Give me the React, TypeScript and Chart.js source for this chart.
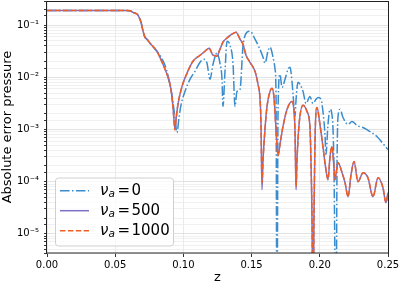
import React, { useEffect, useRef } from 'react';
import { Chart, registerables } from 'chart.js';

Chart.register(...registerables);

// ---- data (z, absolute error pressure) ----
const nu0Points: [number, number][] = [
  [0, 0.19], [0.0242, 0.19], [0.0462, 0.19], [0.0572, 0.19], [0.0609, 0.188], [0.063, 0.175],
  [0.066, 0.163], [0.0674, 0.143], [0.0689, 0.114], [0.0704, 0.0767], [0.0718, 0.0588], [0.0733, 0.0538],
  [0.0755, 0.0451], [0.0792, 0.0345], [0.0828, 0.0265], [0.0865, 0.017], [0.0887, 0.0109], [0.0909, 0.00588],
  [0.0924, 0.0033], [0.0938, 0.0017], [0.0953, 0.000875], [0.0968, 0.0017], [0.0982, 0.0029], [0.1012, 0.00538],
  [0.1048, 0.00915], [0.1085, 0.013], [0.1122, 0.0194], [0.1151, 0.0222], [0.1173, 0.0186], [0.1195, 0.00915],
  [0.1217, 0.0178], [0.1246, 0.029], [0.1268, 0.0186], [0.1283, 0.00915], [0.129, 0.00277], [0.1305, 0.013],
  [0.132, 0.0492], [0.1342, 0.0412], [0.1364, 0.0178], [0.1378, 0.00277], [0.1393, 0.00538], [0.1415, 0.00588],
  [0.1437, 0.0395], [0.1466, 0.0733], [0.1488, 0.0767], [0.1525, 0.0538], [0.1554, 0.0378], [0.1584, 0.0243],
  [0.1598, 0.0186], [0.162, 0.0316], [0.1635, 0.0378], [0.1657, 0.0243], [0.1672, 0.0143], [0.1679, 0.00471],
  [0.1686, 1e-7], [0.1694, 0.00243], [0.1708, 0.0114], [0.1723, 0.00642], [0.1745, 0.00915], [0.1767, 0.0143],
  [0.1782, 0.0156], [0.1796, 0.00838], [0.1804, 0.00471], [0.1818, 0.00178], [0.1826, 0.00378], [0.184, 0.00801],
  [0.1855, 0.00733], [0.1877, 0.00538], [0.1899, 0.00316], [0.1928, 0.00431], [0.195, 0.00316], [0.1972, 0.00378],
  [0.1987, 0.00412], [0.2009, 0.00378], [0.2023, 0.00222], [0.2038, 0.0008], [0.2045, 0.000331], [0.206, 0.00125],
  [0.2075, 0.00243], [0.2089, 0.00194], [0.2097, 0.001], [0.2104, 0.00017], [0.2119, 1e-7], [0.2126, 0.00017],
  [0.2133, 0.0017], [0.2148, 0.00243], [0.217, 0.0017], [0.2207, 0.00125], [0.2236, 0.00143], [0.2273, 0.00119],
  [0.2317, 0.00109], [0.2368, 0.000915], [0.2419, 0.000733], [0.2463, 0.000538], [0.25, 0.000412],
];

const nu500Points: [number, number][] = [
  [0, 0.19], [0.0242, 0.19], [0.0462, 0.19], [0.0572, 0.19], [0.0609, 0.188], [0.063, 0.175],
  [0.066, 0.163], [0.0674, 0.143], [0.0689, 0.114], [0.0704, 0.0767], [0.0718, 0.0588], [0.0733, 0.0538],
  [0.0755, 0.0451], [0.0806, 0.0316], [0.085, 0.0178], [0.0887, 0.01], [0.0909, 0.00588], [0.0924, 0.00265],
  [0.0938, 0.001], [0.0946, 0.00156], [0.096, 0.00303], [0.099, 0.00671], [0.1026, 0.0119], [0.107, 0.0203],
  [0.1122, 0.0265], [0.1158, 0.0316], [0.1188, 0.0361], [0.1217, 0.0265], [0.1246, 0.0254], [0.1268, 0.0345],
  [0.129, 0.0471], [0.1327, 0.0588], [0.1356, 0.0671], [0.1386, 0.0733], [0.1415, 0.0538], [0.1437, 0.0431],
  [0.1459, 0.0265], [0.1488, 0.0194], [0.1525, 0.013], [0.1547, 0.00733], [0.1562, 0.00378], [0.1569, 0.00125],
  [0.1576, 0.00007], [0.1584, 0.000265], [0.1598, 0.001], [0.1613, 0.00277], [0.1635, 0.00538], [0.165, 0.00614],
  [0.1664, 0.00412], [0.1679, 0.001], [0.1694, 0.000316], [0.1708, 0.000515], [0.173, 0.00114], [0.176, 0.00243],
  [0.1796, 0.00345], [0.1811, 0.00222], [0.1818, 0.001], [0.1826, 0.00007], [0.1833, 0.000265], [0.1848, 0.00125],
  [0.1877, 0.0029], [0.1906, 0.00222], [0.1928, 0.00109], [0.1935, 0.000265], [0.1943, 0.0000186], [0.195, 1e-7],
  [0.1957, 0.0000186], [0.1965, 0.000643], [0.1979, 0.00265], [0.2001, 0.00125], [0.2023, 0.000471], [0.2045, 0.00017],
  [0.206, 0.000109], [0.2075, 0.000303], [0.2089, 0.000471], [0.2104, 0.000186], [0.2111, 0.000109], [0.2133, 0.000232],
  [0.2163, 0.000149], [0.2185, 0.0000957], [0.2207, 0.0000515], [0.2229, 0.000136], [0.2251, 0.000243], [0.228, 0.0001],
  [0.2317, 0.000149], [0.2353, 0.000119], [0.239, 0.0000515], [0.2427, 0.000119], [0.2463, 0.0000767], [0.2485, 0.0000395],
  [0.25, 0.0000614],
];

const nu1000Points: [number, number][] = [
  [0, 0.19], [0.0242, 0.19], [0.0462, 0.19], [0.0572, 0.19], [0.0609, 0.188], [0.063, 0.175],
  [0.066, 0.163], [0.0674, 0.143], [0.0689, 0.114], [0.0704, 0.0767], [0.0718, 0.0588], [0.0733, 0.0538],
  [0.0755, 0.0451], [0.0806, 0.0316], [0.085, 0.0178], [0.0887, 0.01], [0.0909, 0.00588], [0.0924, 0.00265],
  [0.0938, 0.00098], [0.0946, 0.00156], [0.096, 0.00303], [0.099, 0.00671], [0.1026, 0.0119], [0.107, 0.0203],
  [0.1122, 0.0265], [0.1158, 0.0316], [0.1188, 0.0361], [0.1217, 0.0265], [0.1246, 0.0254], [0.1268, 0.0345],
  [0.129, 0.0471], [0.1327, 0.0588], [0.1356, 0.0671], [0.1386, 0.0733], [0.1415, 0.0538], [0.1437, 0.0431],
  [0.1459, 0.0265], [0.1488, 0.0194], [0.1525, 0.013], [0.1547, 0.00733], [0.1562, 0.00378], [0.1569, 0.00125],
  [0.1576, 0.000096], [0.1584, 0.000265], [0.1598, 0.001], [0.1613, 0.00277], [0.1635, 0.00538], [0.165, 0.00614],
  [0.1664, 0.00412], [0.1679, 0.001], [0.1694, 0.000316], [0.1708, 0.000515], [0.173, 0.00114], [0.176, 0.00243],
  [0.1796, 0.00345], [0.1811, 0.00222], [0.1818, 0.001], [0.1826, 0.00008], [0.1833, 0.000265], [0.1848, 0.00125],
  [0.1877, 0.0029], [0.1906, 0.00222], [0.1928, 0.00109], [0.1935, 0.000265], [0.1943, 0.0000186], [0.195, 1e-7],
  [0.1957, 0.0000186], [0.1965, 0.000643], [0.1979, 0.00265], [0.2001, 0.00125], [0.2023, 0.000471], [0.2045, 0.00017],
  [0.206, 0.000109], [0.2075, 0.000303], [0.2089, 0.000471], [0.2104, 0.000186], [0.2111, 0.000109], [0.2133, 0.000232],
  [0.2163, 0.000149], [0.2185, 0.0000957], [0.2207, 0.0000515], [0.2229, 0.000136], [0.2251, 0.000243], [0.228, 0.0001],
  [0.2317, 0.000149], [0.2353, 0.000119], [0.239, 0.0000515], [0.2427, 0.000119], [0.2463, 0.0000767], [0.2485, 0.0000395],
  [0.25, 0.0000614],
];

const nuValues = ['0', '500', '1000'];
const xTicks = [0, 0.05, 0.1, 0.15, 0.2, 0.25];
const yMin = 4.3e-6;
const yMax = 0.29;
const xTitle = 'z';
const yTitle = 'Absolute error pressure';

// ---- styles ----
const COLORS = ['#3a8ccd', '#7f6fc4', '#ef5e24'];
const DASHES: number[][] = [[9.6, 2.4, 1.5, 2.4], [], [5.5, 2.4]];
const FONT = '"DejaVu Sans", sans-serif';

const SUP: Record<string, string> = {
  '-': '\u207B', '0': '\u2070', '1': '\u00B9', '2': '\u00B2', '3': '\u00B3', '4': '\u2074',
  '5': '\u2075', '6': '\u2076', '7': '\u2077', '8': '\u2078', '9': '\u2079',
};

function isDecade(v: number | undefined): boolean {
  if (v === undefined || !(v > 0)) return false;
  const e = Math.log10(v);
  return Math.abs(e - Math.round(e)) < 1e-6;
}

function powLabel(v: number): string {
  if (!isDecade(v)) return '';
  const r = Math.round(Math.log10(v));
  return '10' + String(r).split('').map((c) => SUP[c] || c).join('');
}

const framePlugin = {
  id: 'frameAndLegend',
  afterDraw(chart: any) {
    const { ctx, chartArea } = chart;
    const { left, right, top, bottom } = chartArea;
    ctx.save();
    // frame
    ctx.strokeStyle = '#222';
    ctx.lineWidth = 1;
    ctx.setLineDash([]);
    ctx.strokeRect(Math.round(left) - 0.5, Math.round(top) + 0.5, Math.round(right - left) + 1, Math.round(bottom - top) - 0.5);

    // legend
    const bx = left + 8;
    const by = bottom - 75.5;
    const bw = 118;
    const bh = 68;
    ctx.beginPath();
    ctx.roundRect(bx + 0.5, by + 0.5, bw, bh, 3);
    ctx.fillStyle = 'rgba(255,255,255,0.8)';
    ctx.fill();
    ctx.strokeStyle = '#d0d0d0';
    ctx.stroke();

    chart.data.datasets.forEach((ds: any, i: number) => {
      const rowY = by + 13.2 + i * 20;
      ctx.beginPath();
      ctx.setLineDash(ds.borderDash || []);
      ctx.strokeStyle = ds.borderColor;
      ctx.lineWidth = 1.5;
      ctx.moveTo(bx + 5, rowY);
      ctx.lineTo(bx + 34, rowY);
      ctx.stroke();
      ctx.setLineDash([]);

      ctx.fillStyle = '#000';
      ctx.textBaseline = 'middle';
      ctx.textAlign = 'left';
      const tx = bx + 45;
      ctx.font = `italic 15px ${FONT}`;
      ctx.fillText('\u03BD', tx, rowY);
      ctx.font = `italic 10.5px ${FONT}`;
      ctx.fillText('a', tx + 8.5, rowY + 4);
      ctx.font = `15px ${FONT}`;
      ctx.fillText('=', tx + 17.5, rowY);
      ctx.fillText(nuValues[i], tx + 31.5, rowY);
    });
    ctx.restore();
  },
};

export default function App() {
  const ref = useRef<HTMLCanvasElement>(null);

  useEffect(() => {
    const canvas = ref.current;
    if (!canvas) return;
    const series = [nu0Points, nu500Points, nu1000Points];
    const chart = new Chart(canvas, {
      type: 'line',
      data: {
        datasets: series.map((pts, i) => ({
          label: `\u03BD_a = ${nuValues[i]}`,
          data: pts.map(([x, y]) => ({ x, y })),
          borderColor: COLORS[i],
          backgroundColor: COLORS[i],
          borderWidth: 1.5,
          borderDash: DASHES[i],
          pointRadius: 0,
          fill: false,
          cubicInterpolationMode: 'monotone' as const,
          order: 3 - i,
        })),
      },
      options: {
        animation: false,
        responsive: false,
        events: [],
        layout: { padding: { left: 0, right: 11, top: 1, bottom: 0 } },
        plugins: { legend: { display: false }, tooltip: { enabled: false } },
        scales: {
          x: {
            type: 'linear',
            min: 0,
            max: 0.25,
            afterBuildTicks: (s: any) => {
              s.ticks = xTicks.map((v) => ({ value: v }));
            },
            afterFit: (s: any) => {
              s.height = 34;
              s.paddingLeft = 0;
              s.paddingRight = 0;
            },
            ticks: {
              autoSkip: false,
              maxRotation: 0,
              padding: 2,
              color: '#000',
              font: { family: FONT, size: 10 },
              callback: (v: any) => Number(v).toFixed(2),
            },
            grid: { color: '#e4e4e4', lineWidth: 0.8, tickColor: '#000', tickLength: 4 },
            border: { display: false },
            title: {
              display: true,
              text: xTitle,
              color: '#000',
              font: { family: FONT, size: 13 },
              padding: { top: 0, bottom: 2 },
            },
          },
          y: {
            type: 'logarithmic',
            min: yMin,
            max: yMax,
            afterFit: (s: any) => {
              s.width = 47;
              s.paddingTop = 0;
              s.paddingBottom = 0;
            },
            ticks: {
              autoSkip: false,
              padding: 5,
              color: '#000',
              font: { family: FONT, size: 10 },
              callback: (v: any) => powLabel(Number(v)),
            },
            grid: {
              color: (c: any) => (isDecade(c.tick && c.tick.value) ? '#dadada' : '#ececec'),
              lineWidth: 0.8,
              tickColor: '#000',
              tickLength: 3,
            },
            border: { display: false },
            title: {
              display: true,
              text: yTitle,
              color: '#000',
              font: { family: FONT, size: 13 },
              padding: { top: 0, bottom: 0 },
            },
          },
        },
      },
      plugins: [framePlugin],
    } as any);
    return () => chart.destroy();
  }, []);

  return (
    <div style={{ position: 'fixed', left: 0, top: 0, width: 399, height: 287, background: '#fff' }}>
      <canvas ref={ref} width={399} height={287} style={{ display: 'block' }} />
    </div>
  );
}
